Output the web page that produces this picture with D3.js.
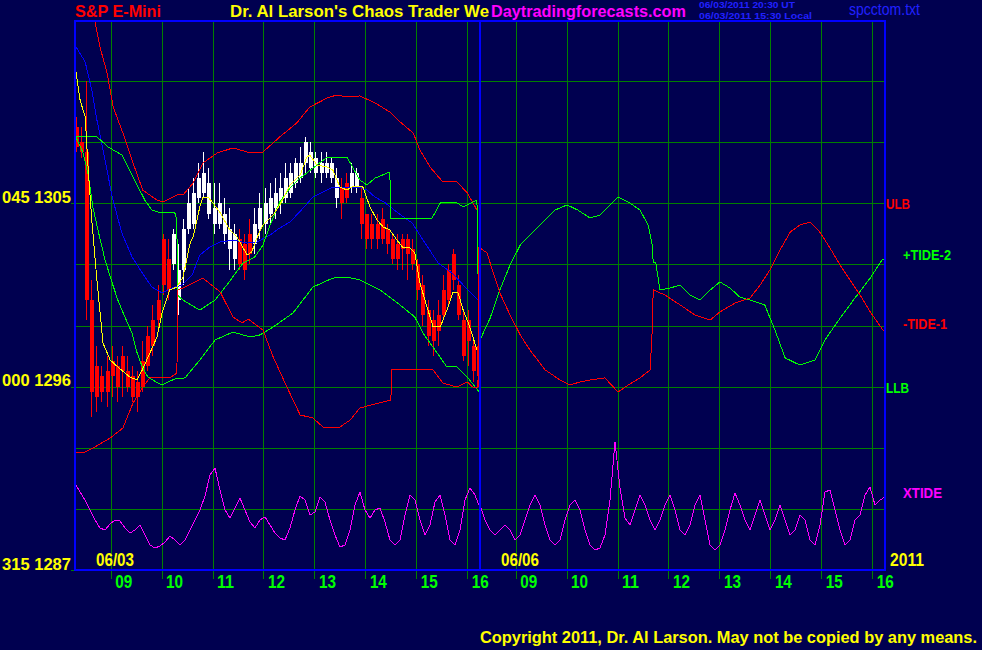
<!DOCTYPE html>
<html><head><meta charset="utf-8">
<script src="https://cdn.jsdelivr.net/npm/d3@7"></script>
<style>
html,body{margin:0;padding:0;background:#000050;}
svg{display:block;}
</style></head><body>
<svg id="chart" width="982" height="650"></svg>
<script>
// ---------------- DATA ----------------
const hourTicks = [9, 10, 11, 12, 13, 14, 15, 16];
const dayLabels = ["06/03", "06/06"];
const yearLabel = "2011";
const priceGrid = [1290, 1293, 1296, 1299, 1302, 1305, 1308, 1311];
const priceLabelValues = [1305, 1296, 1287];
const priceLabelDegrees = ["045", "000", "315"];
const sessionOpen = 8.3, sessionClose = 16.25;

// price bars [open, high, low, close], one every 6 minutes from 8:19
const barStartHour = 8.32, barStepHours = 0.1;
const barsOHLC = [
 [1308.75,1309.25,1307.5,1307.75],[1308.0,1308.75,1307.25,1307.5],[1307.5,1311.0,1299.25,1300.25],
 [1300.25,1301.25,1294.5,1295.75],[1297.0,1298.0,1294.75,1295.5],[1296.5,1297.0,1295.25,1295.75],
 [1296.75,1297.5,1295.0,1295.75],[1297.25,1298.0,1295.5,1296.5],[1297.0,1297.5,1295.25,1296.0],
 [1297.5,1298.0,1295.5,1296.75],[1296.75,1297.5,1295.75,1296.0],[1296.5,1297.0,1295.25,1295.5],
 [1296.25,1296.75,1294.75,1295.5],[1297.25,1298.25,1295.75,1296.0],[1298.5,1299.0,1296.75,1297.0],
 [1299.25,1300.0,1297.5,1298.0],[1300.25,1301.0,1298.75,1299.25],[1303.25,1303.5,1300.5,1301.0],
 [1302.25,1303.25,1300.25,1300.75],[1302.0,1303.75,1301.75,1303.5],[1300.25,1303.0,1299.5,1301.75],
 [1301.75,1304.25,1301.0,1303.75],[1303.75,1305.75,1303.5,1305.0],[1304.0,1306.25,1303.75,1305.5],
 [1305.25,1307.0,1305.0,1306.25],[1305.5,1307.5,1305.25,1306.5],[1304.5,1306.75,1304.25,1306.0],
 [1304.0,1306.0,1303.5,1304.75],[1304.0,1306.0,1303.75,1305.0],[1303.5,1305.25,1303.0,1304.5],
 [1302.75,1304.75,1301.75,1303.75],[1302.25,1304.0,1301.75,1303.5],[1303.25,1303.75,1301.75,1302.0],
 [1303.0,1303.5,1301.25,1301.75],[1303.5,1304.25,1302.0,1302.5],[1303.0,1304.75,1302.5,1304.0],
 [1303.75,1305.5,1303.25,1304.75],[1304.0,1305.75,1303.5,1305.0],[1304.5,1306.0,1304.0,1305.25],
 [1304.75,1306.25,1304.25,1305.5],[1305.0,1306.5,1304.5,1305.75],[1305.25,1307.0,1305.0,1306.25],
 [1305.5,1307.0,1305.25,1306.5],[1306.0,1307.25,1305.75,1307.0],[1306.25,1307.75,1306.0,1307.0],
 [1307.0,1308.25,1306.5,1308.0],[1306.75,1308.0,1306.5,1307.5],[1306.5,1307.5,1306.25,1307.25],
 [1306.5,1307.5,1306.0,1307.0],[1306.5,1307.5,1306.25,1307.0],[1306.25,1307.25,1306.0,1307.0],
 [1305.25,1306.75,1304.75,1306.25],[1305.75,1306.25,1304.25,1305.0],[1306.0,1306.5,1305.0,1305.25],
 [1305.75,1307.0,1305.5,1306.5],[1305.75,1306.75,1305.5,1306.5],[1305.25,1305.75,1303.25,1304.0],
 [1304.5,1304.5,1302.75,1303.25],[1304.0,1304.5,1302.75,1303.25],[1304.0,1304.5,1302.75,1303.25],
 [1304.25,1304.75,1303.0,1303.25],[1303.75,1304.0,1302.5,1303.0],[1303.25,1303.5,1302.0,1302.25],
 [1303.0,1303.5,1301.75,1302.25],[1303.25,1303.5,1301.75,1302.75],[1303.25,1303.5,1301.25,1302.5],
 [1302.75,1303.25,1301.75,1302.0],[1302.0,1302.25,1300.25,1300.75],[1301.0,1301.5,1299.0,1299.5],
 [1299.75,1300.25,1298.0,1298.5],[1299.25,1299.75,1297.5,1298.25],[1299.5,1300.25,1298.0,1298.75],
 [1300.75,1301.5,1299.25,1299.5],[1301.75,1302.0,1300.0,1300.25],[1302.5,1302.75,1300.75,1301.25],
 [1301.0,1301.5,1299.25,1299.5],[1299.25,1299.75,1297.25,1297.5],[1299.25,1299.75,1297.0,1298.25],
 [1298.0,1298.25,1296.25,1296.75],[1298.0,1298.25,1296.0,1296.5]
];

// [hour, price] series, day 1 (06/03)
const fastAverage = [
 [8.30,1311.79],[8.40,1310.07],[8.50,1309.24],[8.56,1306.64],[8.63,1304.18],[8.73,1301.24],[8.85,1298.14],
 [8.99,1297.31],[9.14,1296.97],[9.28,1296.67],[9.38,1296.47],[9.52,1296.33],[9.62,1296.82],[9.77,1297.65],
 [9.91,1298.44],[10.01,1299.62],[10.16,1300.75],[10.30,1300.89],[10.42,1301.38],[10.56,1303.05],[10.62,1303.35],
 [10.75,1304.82],[10.81,1305.31],[10.91,1305.31],[11.01,1305.02],[11.15,1304.53],[11.34,1303.69],[11.48,1303.35],
 [11.68,1302.46],[11.77,1302.61],[11.87,1303.30],[11.99,1303.94],[12.19,1304.43],[12.32,1304.92],[12.52,1305.90],
 [12.72,1306.39],[12.85,1307.27],[12.91,1307.37],[13.05,1306.88],[13.25,1306.78],[13.36,1306.64],[13.50,1305.80],
 [13.64,1305.65],[13.76,1305.85],[13.95,1305.80],[14.09,1304.82],[14.23,1304.18],[14.35,1303.84],[14.48,1303.69],
 [14.62,1303.20],[14.74,1302.81],[14.88,1302.81],[14.97,1302.56],[15.07,1301.09],[15.21,1299.91],[15.33,1298.93],
 [15.47,1298.93],[15.60,1299.76],[15.72,1300.65],[15.82,1300.60],[15.92,1299.76],[16.05,1298.93],[16.19,1297.80]
];
const slowAverage = [
 [8.30,1312.77],[8.50,1311.94],[8.63,1310.56],[8.73,1309.09],[8.89,1307.13],[9.03,1305.31],[9.22,1303.54],
 [9.42,1302.37],[9.62,1301.58],[9.81,1300.89],[10.01,1300.60],[10.20,1300.84],[10.40,1300.99],[10.60,1301.48],
 [10.75,1302.46],[10.95,1302.86],[11.15,1303.10],[11.40,1303.20],[11.68,1303.05],[11.87,1303.10],[12.13,1303.45],
 [12.32,1303.79],[12.52,1304.08],[12.78,1304.77],[12.97,1305.31],[13.17,1305.56],[13.36,1305.80],[13.89,1305.80],
 [14.03,1305.65],[14.19,1305.31],[14.39,1305.02],[14.64,1304.53],[14.92,1304.03],[15.17,1303.05],[15.43,1302.07],
 [15.70,1301.58],[15.96,1300.89],[16.21,1300.25]
];
const upperBand = [
 [8.63,1314.74],[8.79,1312.67],[8.93,1311.40],[9.05,1309.73],[9.24,1308.45],[9.44,1306.98],[9.63,1305.65],
 [9.91,1305.16],[10.03,1305.07],[10.30,1305.41],[10.42,1305.41],[10.62,1306.00],[10.81,1306.98],[11.09,1307.47],
 [11.40,1307.72],[11.68,1307.52],[11.79,1307.47],[11.99,1307.52],[12.32,1308.26],[12.65,1308.94],[12.91,1309.73],
 [13.25,1310.17],[13.44,1310.32],[13.64,1310.22],[13.89,1310.27],[14.19,1309.93],[14.48,1309.48],[14.68,1309.00],
 [14.94,1308.45],[15.07,1307.62],[15.27,1306.78],[15.52,1306.05],[15.80,1306.05],[16.00,1305.51],[16.19,1304.67]
];
const lowerBand = [
 [8.30,1308.35],[8.46,1307.47],[8.56,1306.39],[8.65,1304.82],[8.75,1303.69],[8.89,1302.22],[9.03,1301.09],
 [9.14,1300.25],[9.28,1299.42],[9.42,1298.63],[9.52,1297.65],[9.62,1296.97],[9.73,1296.47],[9.93,1296.18],
 [10.01,1296.08],[10.13,1296.23],[10.26,1296.38],[10.46,1296.43],[10.75,1297.31],[11.05,1298.29],[11.40,1298.68],
 [11.74,1298.44],[11.93,1298.54],[12.19,1298.93],[12.58,1299.62],[12.97,1300.89],[13.36,1301.33],[13.64,1301.38],
 [13.89,1301.24],[14.29,1300.75],[14.68,1300.01],[14.97,1299.42],[15.13,1298.63],[15.41,1297.65],[15.60,1296.97],
 [15.80,1296.97],[16.00,1296.47],[16.25,1295.69]
];
const tidePlus2Day1 = [
 [8.30,1308.26],[8.73,1308.26],[8.95,1307.77],[9.22,1307.37],[9.34,1306.78],[9.54,1305.80],[9.67,1305.16],
 [9.81,1304.67],[9.93,1304.57],[10.26,1304.53],[10.30,1304.18],[10.31,1300.50],[10.42,1300.25],[10.75,1299.76],
 [11.05,1300.25],[11.28,1300.99],[11.60,1302.07],[11.83,1302.37],[11.99,1302.95],[12.13,1303.94],[12.32,1305.07],
 [12.52,1305.75],[12.72,1306.24],[12.85,1306.49],[13.05,1306.88],[13.25,1307.27],[13.64,1307.27],[13.76,1306.73],
 [13.89,1306.15],[14.03,1305.90],[14.19,1306.24],[14.48,1306.54],[14.50,1304.28],[15.31,1304.28],[15.47,1305.02],
 [15.80,1305.02],[15.92,1304.82],[16.19,1305.16],[16.21,1301.73],[16.23,1298.29]
];
const tidePlus2Day2 = [
 [8.30,1298.29],[8.50,1299.37],[8.69,1300.75],[8.89,1301.97],[9.09,1302.95],[9.28,1303.45],[9.48,1303.94],
 [9.77,1304.67],[10.01,1304.92],[10.22,1304.67],[10.46,1304.28],[10.66,1304.43],[10.85,1304.92],[11.01,1305.31],
 [11.24,1305.02],[11.44,1304.67],[11.60,1303.94],[11.68,1302.95],[11.70,1302.12],[11.75,1302.12],[11.83,1300.75],
 [12.03,1300.84],[12.23,1300.99],[12.42,1300.50],[12.62,1300.25],[12.82,1300.75],[13.01,1301.14],[13.21,1300.84],
 [13.40,1300.40],[13.60,1300.25],[13.89,1300.01],[14.09,1298.78],[14.29,1297.41],[14.58,1297.06],[14.88,1297.31],
 [15.07,1298.29],[15.37,1299.37],[15.66,1300.35],[15.96,1301.33],[16.19,1302.22],[16.25,1302.22]
];
const tideMinus1Day1 = [
 [8.30,1292.74],[8.50,1292.79],[8.69,1293.04],[8.99,1293.48],[9.24,1293.97],[9.44,1295.20],[9.63,1295.98],
 [9.77,1296.43],[9.91,1296.47],[10.16,1296.43],[10.30,1296.67],[10.32,1300.75],[10.46,1300.89],[10.81,1301.33],
 [11.15,1300.65],[11.40,1299.42],[11.58,1299.13],[11.70,1299.32],[11.99,1298.78],[12.19,1297.46],[12.46,1295.98],
 [12.72,1294.61],[12.97,1294.46],[13.17,1294.02],[13.50,1294.02],[13.70,1294.36],[13.89,1294.95],[14.19,1295.15],
 [14.50,1295.35],[14.52,1296.82],[15.33,1296.82],[15.52,1296.18],[15.80,1295.98],[16.00,1296.23],[16.11,1295.98],
 [16.21,1295.93],[16.23,1302.81]
];
const tideMinus1Day2 = [
 [8.30,1302.81],[8.44,1302.56],[8.56,1301.58],[8.69,1300.60],[8.89,1299.52],[9.09,1298.54],[9.28,1297.80],
 [9.58,1296.82],[9.87,1296.33],[10.07,1296.08],[10.26,1296.23],[10.46,1296.33],[10.75,1296.43],[11.01,1295.74],
 [11.21,1296.08],[11.44,1296.43],[11.64,1296.82],[11.68,1298.78],[11.70,1300.75],[11.93,1300.50],[12.23,1300.01],
 [12.52,1299.52],[12.82,1299.27],[13.01,1299.67],[13.31,1300.11],[13.60,1300.35],[13.80,1300.99],[13.99,1301.73],
 [14.19,1302.71],[14.39,1303.59],[14.58,1303.94],[14.78,1304.08],[14.97,1303.59],[15.17,1302.81],[15.37,1301.97],
 [15.56,1301.24],[15.76,1300.50],[15.96,1299.67],[16.21,1298.78],[16.25,1298.78]
];
// XTIDE oscillator, sampled evenly across each session
const xtideDay1 = [67,58,50,40,30,22,20,26,30,29,22,17,20,25,15,5,2,4,8,14,10,5,10,20,30,40,54,75,82,60,
 40,32,42,52,40,28,22,30,33,25,17,12,10,22,40,54,50,35,38,53,48,30,15,3,5,20,45,58,40,32,
 40,42,28,10,5,10,35,55,50,30,15,25,48,55,35,10,5,20,50,62,55,42];
const xtideDay2 = [45,30,20,15,20,25,20,10,15,30,45,55,45,25,10,5,10,30,45,50,40,20,5,0,2,15,50,108,62,32,
 25,40,55,45,30,20,30,45,55,40,20,15,25,45,55,30,5,0,5,20,40,57,45,30,20,35,50,35,20,30,
 45,30,15,20,35,30,10,5,25,58,60,40,20,5,10,30,35,55,63,45,50,53,53];

// ---------------- DRAWING ----------------
const FONT = '"Liberation Sans", Arial, sans-serif';
const GRID = "#008000", BORDER = "#0000ff";
const L = 75, R = 885, T = 21, B = 570, SPLIT = 480;
const svg = d3.select("#chart");
svg.append("rect").attr("width", 982).attr("height", 650).attr("fill", "#000050");
svg.append("clipPath").attr("id", "clip").append("rect")
  .attr("x", L).attr("y", T).attr("width", R - L).attr("height", B - T);

const y = d3.scaleLinear().domain([1287, 1314]).range([B, 20]);
const yX = d3.scaleLinear().domain([0, 110]).range([550, 440]);
const xs = [
  d3.scaleLinear().domain([sessionOpen, sessionClose]).range([L, SPLIT]),
  d3.scaleLinear().domain([sessionOpen, sessionClose]).range([SPLIT, R])
];

// vertical grid + hour ticks
xs.forEach(x => {
  const g = svg.append("g").attr("transform", `translate(0,${B})`)
    .call(d3.axisBottom(x).tickValues(hourTicks).tickSizeInner(-(B - T)).tickSizeOuter(0).tickFormat(""));
  g.select(".domain").remove();
  g.selectAll(".tick line").attr("stroke", GRID).attr("shape-rendering", "crispEdges");
  const g2 = svg.append("g").attr("transform", `translate(0,${B})`)
    .call(d3.axisBottom(x).tickValues(hourTicks).tickSizeInner(9).tickSizeOuter(0).tickFormat(d3.format("02d")));
  g2.attr("font-family", FONT).attr("font-size", 18).attr("font-weight", "bold");
  g2.select(".domain").remove();
  g2.selectAll(".tick line").attr("stroke", GRID).attr("shape-rendering", "crispEdges");
  g2.selectAll(".tick text").attr("x", 4).attr("y", 18).attr("dy", null).attr("text-anchor", "start")
    .attr("fill", "#00ff00").attr("textLength", 17).attr("lengthAdjust", "spacingAndGlyphs");
});

// horizontal grid
const gh = svg.append("g").attr("transform", `translate(${L},0)`)
  .call(d3.axisLeft(y).tickValues(priceGrid).tickSizeInner(-(R - L)).tickSizeOuter(0).tickFormat(""));
gh.select(".domain").remove();
gh.selectAll(".tick line").attr("stroke", GRID).attr("shape-rendering", "crispEdges");

// price labels
const gl = svg.append("g").attr("transform", `translate(${L},0)`)
  .call(d3.axisLeft(y).tickValues(priceLabelValues).tickSizeInner(4).tickSizeOuter(0)
    .tickFormat((d, i) => priceLabelDegrees[i] + " " + d));
gl.attr("font-family", FONT).attr("font-size", 17).attr("font-weight", "bold");
gl.select(".domain").remove();
gl.selectAll(".tick line").attr("stroke", GRID).attr("shape-rendering", "crispEdges");
gl.selectAll(".tick text").attr("x", -4).attr("y", -1).attr("dy", null)
  .attr("fill", "#ffff00").attr("textLength", 69).attr("lengthAdjust", "spacingAndGlyphs");

const plotG = svg.append("g").attr("clip-path", "url(#clip)");

// bars
const barG = plotG.append("g").attr("shape-rendering", "crispEdges");
const bx = i => Math.round(xs[0](barStartHour + i * barStepHours));
const bars = barG.selectAll("g").data(barsOHLC).join("g");
bars.append("line")
  .attr("x1", (d, i) => bx(i) + 0.5).attr("x2", (d, i) => bx(i) + 0.5)
  .attr("y1", d => y(d[1])).attr("y2", d => y(d[2]))
  .attr("stroke", d => d[3] >= d[0] ? "#ffffff" : "#ff0000");
bars.append("rect")
  .attr("x", (d, i) => bx(i) - 1.5).attr("width", 4)
  .attr("y", d => y(Math.max(d[0], d[3])))
  .attr("height", d => Math.max(1, Math.abs(y(d[0]) - y(d[3]))))
  .attr("fill", d => d[3] >= d[0] ? "#ffffff" : "#ff0000");

const line = d3.line();
const toPx = (day, arr) => arr.map(d => [xs[day](d[0]), y(d[1])]);
function drawLine(points, color) {
  plotG.append("path").attr("d", line(points)).attr("fill", "none")
    .attr("stroke", color).attr("stroke-width", 1).attr("shape-rendering", "crispEdges");
}
drawLine(toPx(0, slowAverage), "#0000ff");
drawLine(toPx(0, upperBand), "#ff0000");
drawLine(toPx(0, lowerBand), "#00ff00");
drawLine(toPx(0, tidePlus2Day1).concat(toPx(1, tidePlus2Day2)), "#00ff00");
drawLine(toPx(0, tideMinus1Day1).concat(toPx(1, tideMinus1Day2)), "#ff0000");
drawLine(toPx(0, fastAverage), "#ffff00");

const xtStep = (sessionClose - sessionOpen) / (xtideDay1.length - 1);
const xtPts = xtideDay1.map((v, i) => [xs[0](sessionOpen + i * xtStep), yX(v)])
  .concat(xtideDay2.map((v, i) => [xs[1](sessionOpen + i * xtStep), yX(v)]));
drawLine(xtPts, "#ff00ff");

// borders
svg.append("rect").attr("x", L).attr("y", T).attr("width", R - L).attr("height", B - T)
  .attr("fill", "none").attr("stroke", BORDER).attr("stroke-width", 2).attr("shape-rendering", "crispEdges");
svg.append("line").attr("x1", SPLIT).attr("x2", SPLIT).attr("y1", T).attr("y2", B)
  .attr("stroke", BORDER).attr("stroke-width", 2).attr("shape-rendering", "crispEdges");

// texts
function txt(s, x, yb, size, color, width, opts = {}) {
  const t = svg.append("text").text(s).attr("x", x).attr("y", yb)
    .attr("font-family", FONT).attr("font-size", size).attr("fill", color)
    .attr("font-weight", opts.normal ? "normal" : "bold");
  if (width) t.attr("textLength", width).attr("lengthAdjust", "spacingAndGlyphs");
  if (opts.anchor) t.attr("text-anchor", opts.anchor);
  return t;
}
txt("S&P E-Mini", 75, 17, 17, "#ff0000", 86);
txt("Dr. Al Larson's Chaos Trader We", 230, 17, 17, "#ffff00", 259);
txt("Daytradingforecasts.com", 491, 17, 17, "#ff00ff", 195);
txt("06/03/2011 20:30 UT", 699, 8, 8.5, "#2020ff", 96);
txt("06/03/2011 15:30 Local", 699, 18.5, 8.5, "#2020ff", 113);
txt("spcctom.txt", 849, 15, 17, "#2020ff", 71, {normal: true});

txt(dayLabels[0], xs[0](sessionOpen) + 21, 566, 18, "#ffff00", 38);
txt(dayLabels[1], xs[1](sessionOpen) + 21, 566, 18, "#ffff00", 38);
txt(yearLabel, R + 5, 566, 18, "#ffff00", 34);

txt("ULB", R + 1, y(1305) + 6, 15, "#ff0000", 24);
txt("LLB", R + 1, y(1296) + 6, 15, "#00ff00", 23);
txt("+TIDE-2", R + 18, y(tidePlus2Day2[tidePlus2Day2.length - 1][1]), 15, "#00ff00", 48);
txt("-TIDE-1", R + 18, y(tideMinus1Day2[tideMinus1Day2.length - 1][1]) - 1, 15, "#ff0000", 44);
txt("XTIDE", R + 18, yX(xtideDay2[xtideDay2.length - 1]) + 1, 15, "#ff00ff", 39);

txt("Copyright 2011, Dr. Al Larson. May not be copied by any means.", 480, 643, 16, "#ffff00", 497);
</script>
</body></html>
